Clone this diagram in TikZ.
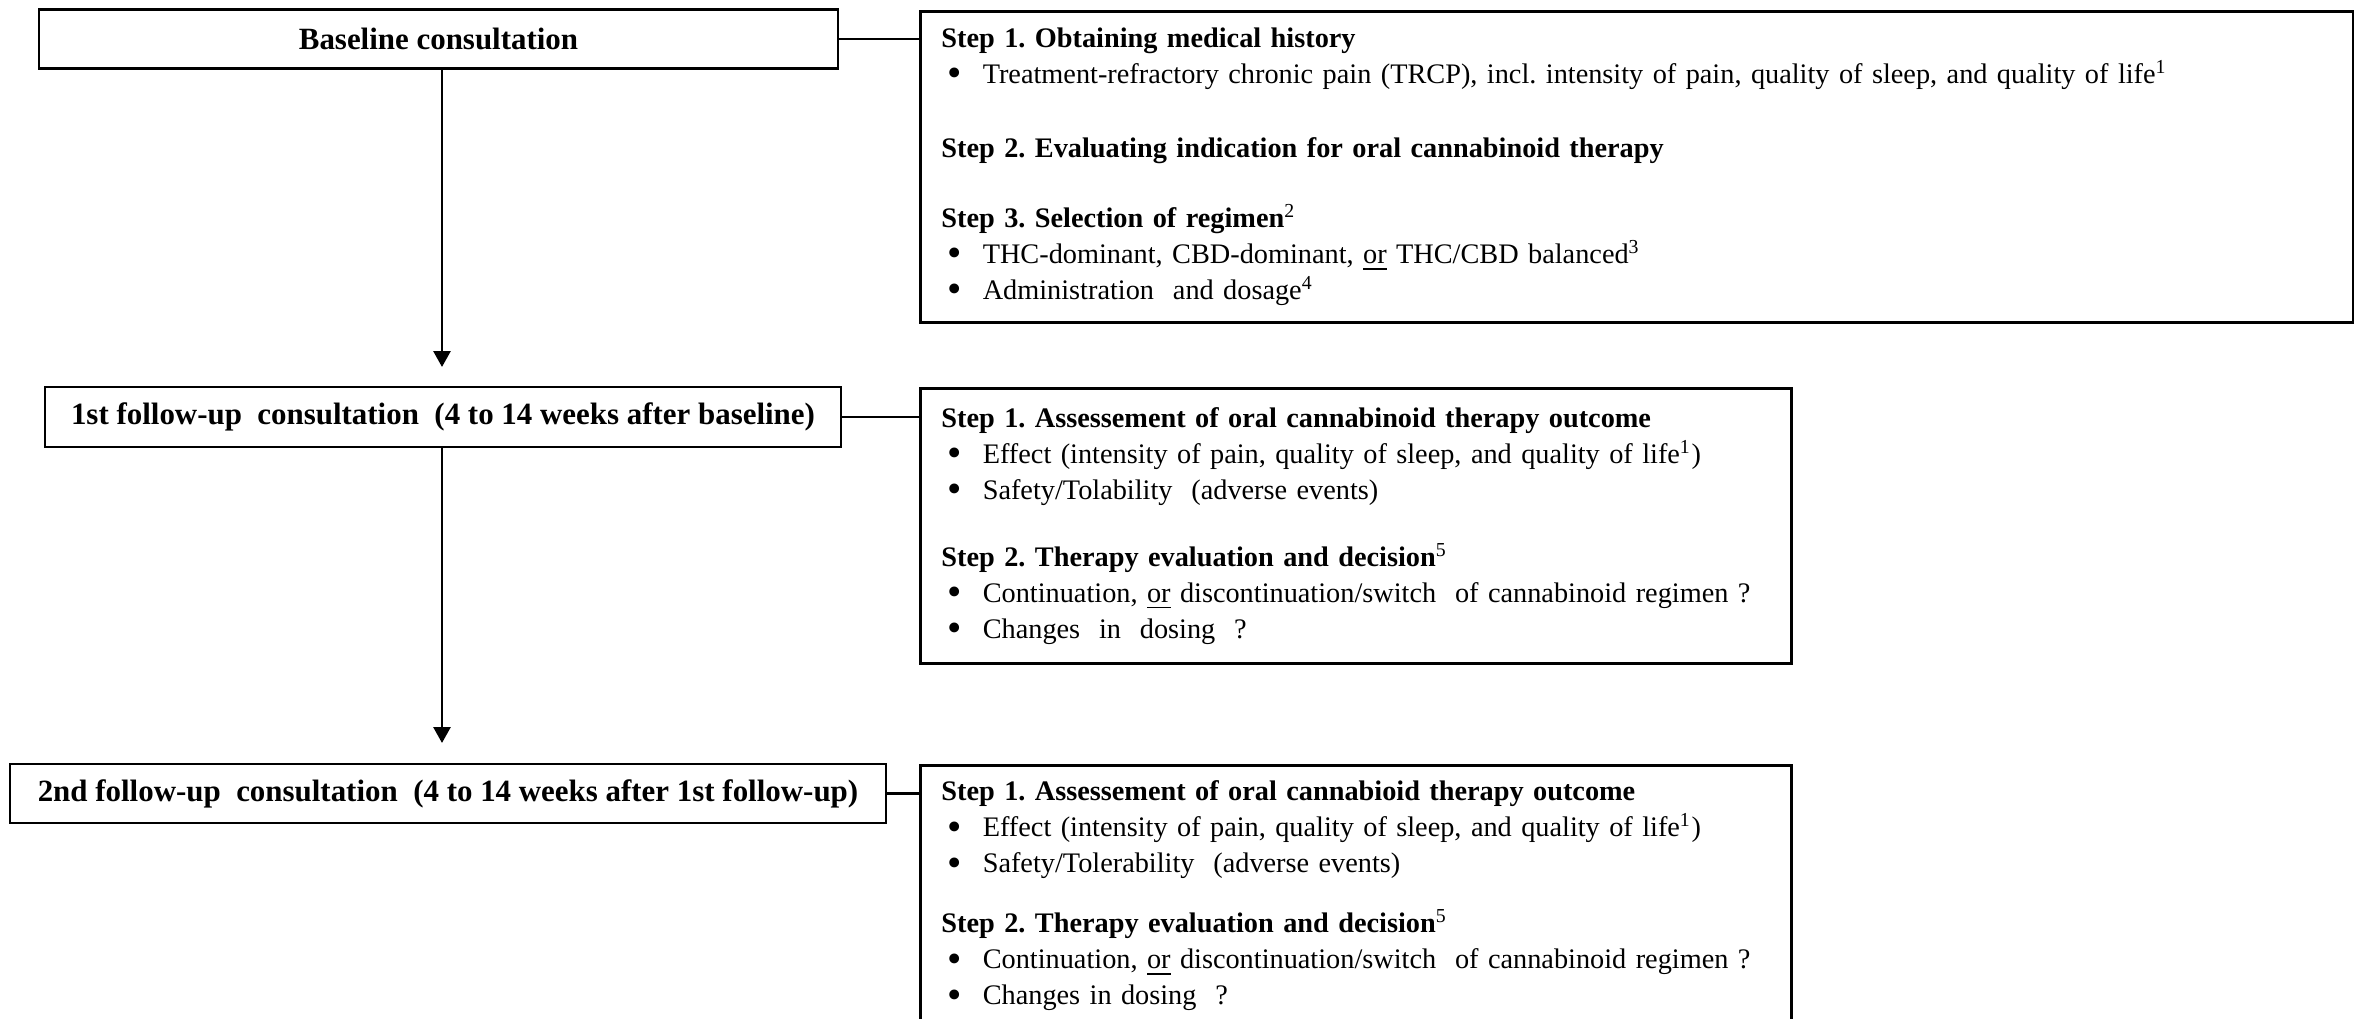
\documentclass[tikz,border=0pt]{standalone}
\usepackage{fontspec}
\setmainfont{Liberation Serif}
\usepackage{graphicx}
\usepackage{tikz}
\usetikzlibrary{arrows.meta,positioning}
\frenchspacing
\newcommand{\itm}{\hspace*{0.6mm}\raisebox{-0.25ex}{\scalebox{1.45}{\textbullet}}\hspace{2.1mm}}
\tikzset{
  every node/.style={
    font=\fontsize{8.05}{10.25}\selectfont
  },
  consult/.style={
    shape=rectangle,
    draw=black,
    thick,
    minimum height=0.59cm,
    inner sep=0pt,
    font=\fontsize{8.8}{10}\selectfont\bfseries
  },
  steps/.style n args={2}{
    shape=rectangle,
    draw=black,
    thick,
    anchor=north west,
    inner xsep=0.21cm,
    inner ysep=0pt,
    text width=#1,
    minimum height=#2,
    align=left
  },
  flow/.style={
    thick,
    -{Triangle[length=1.6mm,width=1.7mm]}
  },
  link/.style={
    thick
  }
}

\begin{document}
\begin{tikzpicture}

\useasboundingbox (0,0) rectangle (23.54,-10.19);

% consultations
\node [consult, minimum width=7.99cm] (base) at (4.385,-0.39) {Baseline consultation};
\node [consult, minimum width=7.96cm, minimum height=0.60cm] (fu1) at (4.43,-4.17)
  {1st follow-up\ \ consultation\ \ (4 to 14 weeks after baseline)};
\node [consult, minimum width=8.76cm] (fu2) at (4.48,-7.935)
  {2nd follow-up\ \ consultation\ \ (4 to 14 weeks after 1st follow-up)};

% steps
\node [steps={13.91cm}{3.11cm}] (hist) at (9.19,-0.10) {
  \textbf{Step 1. Obtaining medical history}\\
  \itm Treatment-refractory chronic pain (TRCP), incl. intensity of pain, quality of sleep, and quality of life\textsuperscript{1}\\[3.8mm]
  \textbf{Step 2. Evaluating indication for oral cannabinoid therapy}\\[3.4mm]
  \textbf{Step 3. Selection of regimen}\textsuperscript{2}\\
  \itm THC-dominant, CBD-dominant, \underline{or} THC/CBD balanced\textsuperscript{3}\\
  \itm Administration\ \ and dosage\textsuperscript{4}
};
\node [steps={8.29cm}{2.75cm}] (eval1) at (9.19,-3.87) {
  \textbf{Step 1. Assessement of oral cannabinoid therapy outcome}\\
  \itm Effect (intensity of pain, quality of sleep, and quality of life\textsuperscript{1})\\
  \itm Safety/Tolability\ \ (adverse events)\\[3.1mm]
  \textbf{Step 2. Therapy evaluation and decision}\textsuperscript{5}\\
  \itm Continuation, \underline{or} discontinuation/switch\ \ of cannabinoid regimen ?\\
  \itm Changes\ \ in\ \ dosing\ \ ?
};
\node [steps={8.29cm}{2.61cm}] (eval2) at (9.19,-7.64) {
  \textbf{Step 1. Assessement of oral cannabioid therapy outcome}\\
  \itm Effect (intensity of pain, quality of sleep, and quality of life\textsuperscript{1})\\
  \itm Safety/Tolerability\ \ (adverse events)\\[2.4mm]
  \textbf{Step 2. Therapy evaluation and decision}\textsuperscript{5}\\
  \itm Continuation, \underline{or} discontinuation/switch\ \ of cannabinoid regimen ?\\
  \itm Changes in dosing\ \ ?
};

% connectors
\coordinate (tip1) at (4.42,-3.67);
\coordinate (tip2) at (4.42,-7.43);
\draw [flow] (base.south -| tip1) -- (tip1);
\draw [flow] (fu1.south -| tip2) -- (tip2);
\draw [link] (base.east) -- (base.east -| hist.west);
\draw [link] (fu1.east) -- (fu1.east -| eval1.west);
\draw [link] (fu2.east) -- (fu2.east -| eval2.west);

\end{tikzpicture}
\end{document}
